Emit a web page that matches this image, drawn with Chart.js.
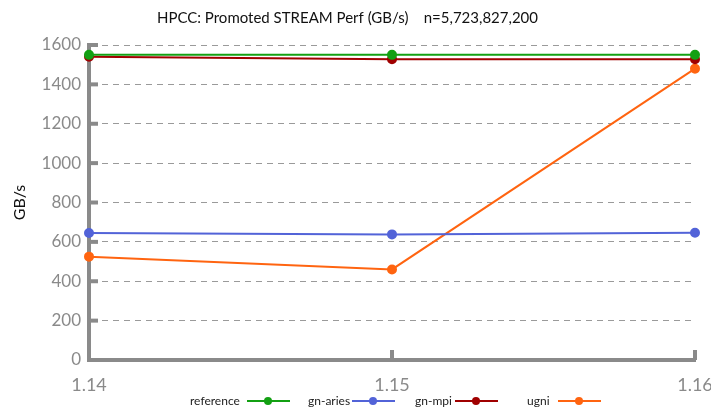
<!DOCTYPE html>
<html>
<head>
<meta charset="utf-8">
<script src="https://cdn.jsdelivr.net/npm/chart.js@4"></script>
<style>
  html, body { margin: 0; padding: 0; background: #fff; }
</style>
</head>
<body>
<canvas id="perf" width="711" height="410"></canvas>
<script>
const versions = ['1.14', '1.15', '1.16']
const reference = [1550, 1550, 1550]
const gnAries = [645, 638, 646]
const gnMpi = [1540, 1528, 1528]
const ugni = [525, 460, 1480]
const yTicks = [0, 200, 400, 600, 800, 1000, 1200, 1400, 1600]

const axisGray = '#8a8a8a'
const font = 'Lato, "Open Sans", sans-serif'

function series(label, data, color) {
    return {
        label: label,
        data: data,
        borderColor: color,
        backgroundColor: color,
        borderWidth: 2,
        pointRadius: 4,
        pointHoverRadius: 4,
        tension: 0
    }
}

// tick stubs inside the plot + legend with text before the line
const decor = {
    id: 'decor',
    afterDraw(chart) {
        const ctx = chart.ctx
        const area = chart.chartArea
        const y = chart.scales.y
        const x = chart.scales.x
        ctx.save()
        ctx.strokeStyle = axisGray
        ctx.lineWidth = 4
        yTicks.forEach(v => {
            if (v === 0) return
            const py = y.getPixelForValue(v)
            ctx.beginPath()
            ctx.moveTo(area.left, py)
            ctx.lineTo(area.left + 9, py)
            ctx.stroke()
        })
        versions.forEach((v, i) => {
            if (i === 0) return
            const px = x.getPixelForValue(i)
            ctx.beginPath()
            ctx.moveTo(px, area.bottom)
            ctx.lineTo(px, area.bottom - 10)
            ctx.stroke()
        })
        // legend
        const starts = [190, 308, 415, 527]
        const lineStarts = [247, 352, 455, 558]
        const ly = 401
        ctx.font = '12px ' + font
        ctx.textBaseline = 'middle'
        ctx.fillStyle = '#222'
        chart.data.datasets.forEach((ds, i) => {
            ctx.fillText(ds.label, starts[i], ly)
            ctx.strokeStyle = ds.borderColor
            ctx.lineWidth = 2
            ctx.beginPath()
            ctx.moveTo(lineStarts[i], ly)
            ctx.lineTo(lineStarts[i] + 43, ly)
            ctx.stroke()
            ctx.fillStyle = ds.borderColor
            ctx.beginPath()
            ctx.arc(lineStarts[i] + 21, ly, 4, 0, Math.PI * 2)
            ctx.fill()
            ctx.fillStyle = '#222'
        })
        ctx.restore()
    }
}

new Chart(document.getElementById('perf'), {
    type: 'line',
    data: {
        labels: versions,
        datasets: [
            series('reference', reference, '#13a013'),
            series('gn-aries', gnAries, '#5263d8'),
            series('gn-mpi', gnMpi, '#a00000'),
            series('ugni', ugni, '#ff6410')
        ]
    },
    options: {
        responsive: false,
        animation: false,
        layout: { padding: { left: 0, right: 16, top: 2, bottom: 0 } },
        plugins: {
            legend: { display: false },
            tooltip: { enabled: false },
            title: {
                display: true,
                text: 'HPCC: Promoted STREAM Perf (GB/s)    n=5,723,827,200',
                color: '#111',
                font: { family: font, size: 15, weight: 'normal' },
                padding: { top: 7, bottom: 18 }
            }
        },
        scales: {
            x: {
                offset: false,
                grid: { display: false },
                border: { color: axisGray, width: 4 },
                ticks: { color: axisGray, font: { family: font, size: 18 }, padding: 6 },
                afterFit(scale) {
                    scale.height = 50
                    scale.paddingLeft = 0
                    scale.paddingRight = 0
                }
            },
            y: {
                min: 0,
                max: 1600,
                afterBuildTicks(scale) { scale.ticks = yTicks.map(v => ({ value: v })) },
                grid: {
                    color: '#9a9a9a',
                    lineWidth: 1,
                    tickLength: 0,
                    drawTicks: false
                },
                border: { color: axisGray, width: 4, dash: [6, 5] },
                ticks: {
                    color: axisGray,
                    font: { family: font, size: 17 },
                    padding: 8,
                    autoSkip: false,
                    callback: v => String(v)
                },
                title: {
                    display: true,
                    text: 'GB/s',
                    color: '#111',
                    font: { family: font, size: 16 },
                    padding: { top: 10, bottom: 10 }
                },
                afterFit(scale) { scale.width = 89 }
            }
        }
    },
    plugins: [decor]
})
</script>
</body>
</html>
